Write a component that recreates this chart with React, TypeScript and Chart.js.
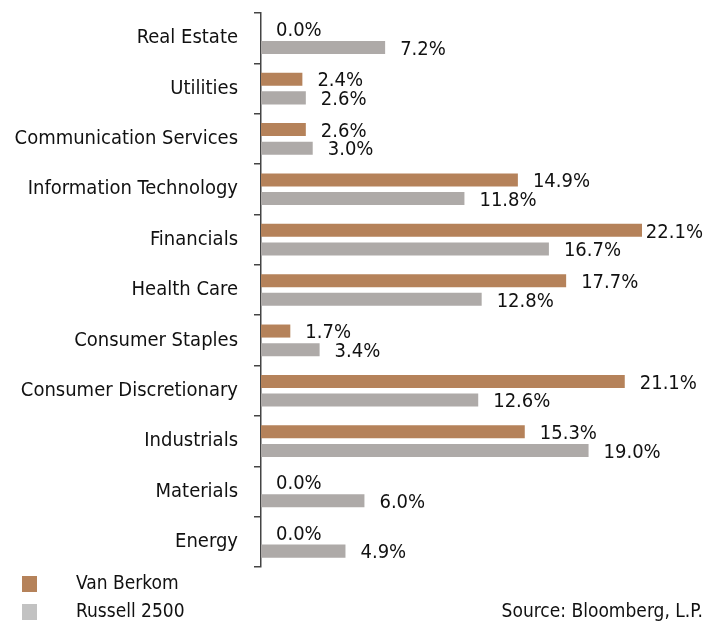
import React, { useEffect, useRef } from "react";
import { Chart, registerables } from "chart.js";

Chart.register(...registerables);

const categories = [
  "Real Estate",
  "Utilities",
  "Communication Services",
  "Information Technology",
  "Financials",
  "Health Care",
  "Consumer Staples",
  "Consumer Discretionary",
  "Industrials",
  "Materials",
  "Energy",
];
const vanBerkom = [0.0, 2.4, 2.6, 14.9, 22.1, 17.7, 1.7, 21.1, 15.3, 0.0, 0.0];
const russell2500 = [7.2, 2.6, 3.0, 11.8, 16.7, 12.8, 3.4, 12.6, 19.0, 6.0, 4.9];
const seriesNames = ["Van Berkom", "Russell 2500"];
const sourceText = "Source: Bloomberg, L.P.";

const FONT = "'DejaVu Sans Condensed', 'DejaVu Sans', sans-serif";
const ORANGE = "#B5825A";
const GRAY = "#AEAAA8";
const LEGEND_COLORS = ["#B5825A", "#C2C2C2"];

const labelPlugin = {
  id: "valueLabels",
  afterDatasetsDraw(chart: any) {
    const ctx = chart.ctx;
    ctx.save();
    ctx.font = `20px ${FONT}`;
    ctx.fillStyle = "#111";
    ctx.textBaseline = "middle";
    ctx.textAlign = "left";
    chart.data.datasets.forEach((ds: any, di: number) => {
      const meta = chart.getDatasetMeta(di);
      meta.data.forEach((bar: any, i: number) => {
        const txt = Number(ds.data[i]).toFixed(1) + "%";
        const w = ctx.measureText(txt).width;
        let x = bar.x + 15;
        x = Math.min(x, chart.width - w - 1);
        ctx.fillText(txt, x, bar.y + 2);
      });
    });
    ctx.restore();
  },
  afterDraw(chart: any) {
    const ctx = chart.ctx;
    ctx.save();
    ctx.font = `19px ${FONT}`;
    ctx.fillStyle = "#111";
    ctx.textBaseline = "middle";
    ctx.textAlign = "left";
    seriesNames.forEach((name, i) => {
      const cy = 584 + i * 28;
      ctx.fillStyle = LEGEND_COLORS[i];
      ctx.fillRect(22, cy - 8, 15, 16);
      ctx.fillStyle = "#111";
      ctx.fillText(name, 76, cy);
    });
    ctx.textAlign = "right";
    ctx.fillText(sourceText, 703, 612);
    ctx.restore();
  },
};

export default function App() {
  const ref = useRef<HTMLCanvasElement>(null);
  useEffect(() => {
    if (!ref.current) return;
    const chart = new Chart(ref.current, {
      type: "bar",
      data: {
        labels: categories,
        datasets: [
          {
            label: seriesNames[0],
            data: vanBerkom,
            backgroundColor: ORANGE,
            categoryPercentage: 0.74,
            barPercentage: 0.7,
          },
          {
            label: seriesNames[1],
            data: russell2500,
            backgroundColor: GRAY,
            categoryPercentage: 0.74,
            barPercentage: 0.7,
          },
        ],
      },
      options: {
        indexAxis: "y",
        animation: false,
        responsive: false,
        layout: { padding: { top: 13, bottom: 57, left: 0, right: 12 } },
        plugins: { legend: { display: false }, tooltip: { enabled: false } },
        scales: {
          x: { display: false, min: 0, max: 25 },
          y: {
            afterFit(scale: any) {
              scale.width = 261;
              scale.paddingTop = 0;
              scale.paddingBottom = 0;
            },
            border: { display: true, color: "#444", width: 1.5 },
            grid: {
              offset: true,
              drawOnChartArea: false,
              drawTicks: true,
              tickLength: 7,
              color: "#444",
              lineWidth: 1.5,
            },
            ticks: {
              padding: 16,
              color: "#111",
              font: { family: FONT, size: 20 },
            },
          },
        },
      },
      plugins: [labelPlugin],
    });
    return () => chart.destroy();
  }, []);
  return (
    <div style={{ position: "absolute", left: 0, top: 0, width: 704, height: 624 }}>
      <canvas ref={ref} width={704} height={624} style={{ width: 704, height: 624 }} />
    </div>
  );
}
